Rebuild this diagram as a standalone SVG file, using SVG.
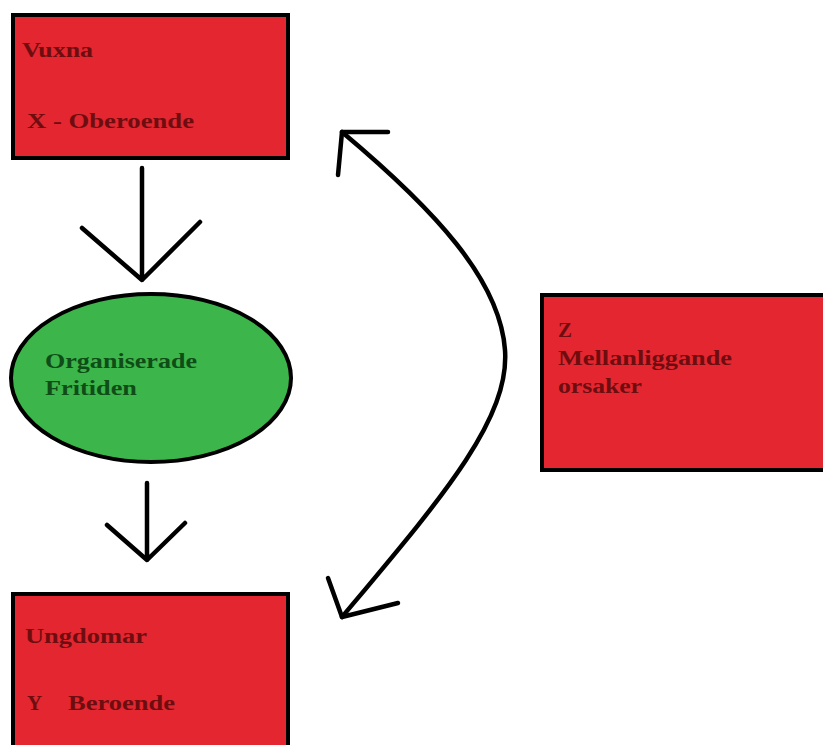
<svg xmlns="http://www.w3.org/2000/svg" width="823" height="745" viewBox="0 0 823 745">
<style>
.box{fill:#e3262f;stroke:#000;stroke-width:4}
.ell{fill:#3cb54a;stroke:#000;stroke-width:4}
.t{font-family:"Liberation Serif","Times New Roman",serif;font-weight:bold;font-size:21px;fill:#6e0d0f}
.tg{font-family:"Liberation Serif","Times New Roman",serif;font-weight:bold;font-size:21px;fill:#0f4d17}
.ln{fill:none;stroke:#000;stroke-width:4.5;stroke-linecap:round;stroke-linejoin:round}
</style>
<rect width="823" height="745" fill="#fff"/>
<g id="vuxna">
<rect class="box" x="13" y="15" width="275" height="143"/>
<text class="t" x="22" y="57" textLength="71" lengthAdjust="spacingAndGlyphs">Vuxna</text>
<text class="t" x="27" y="128" textLength="167" lengthAdjust="spacingAndGlyphs">X - Oberoende</text>
</g>
<g id="fritiden">
<ellipse class="ell" cx="151" cy="378" rx="140" ry="84"/>
<text class="tg" x="45" y="368" textLength="152" lengthAdjust="spacingAndGlyphs">Organiserade</text>
<text class="tg" x="45" y="395" textLength="92" lengthAdjust="spacingAndGlyphs">Fritiden</text>
</g>
<g id="ungdomar">
<rect class="box" x="13" y="594" width="275" height="160"/>
<text class="t" x="25" y="643" textLength="122" lengthAdjust="spacingAndGlyphs">Ungdomar</text>
<text class="t" x="27" y="710">Y</text>
<text class="t" x="68" y="710" textLength="107" lengthAdjust="spacingAndGlyphs">Beroende</text>
</g>
<g id="z">
<rect class="box" x="542" y="295" width="290" height="175"/>
<text class="t" x="558" y="337">Z</text>
<text class="t" x="558" y="365" textLength="174" lengthAdjust="spacingAndGlyphs">Mellanliggande</text>
<text class="t" x="558" y="393" textLength="84" lengthAdjust="spacingAndGlyphs">orsaker</text>
</g>
<g id="connectors">
<path class="ln" d="M142,168 V280 M82,228 L142,280 L200,222"/>
<path class="ln" d="M147,483 V560 M107,525 L147,560 L185,523"/>
<path class="ln" d="M342,132 C435,210 500,280 505,350 C510,420 440,500 342,617"/>
<path class="ln" d="M388,132 L342,132 L338,175"/>
<path class="ln" d="M328,578 L342,617 L398,603"/>
</g>
</svg>
